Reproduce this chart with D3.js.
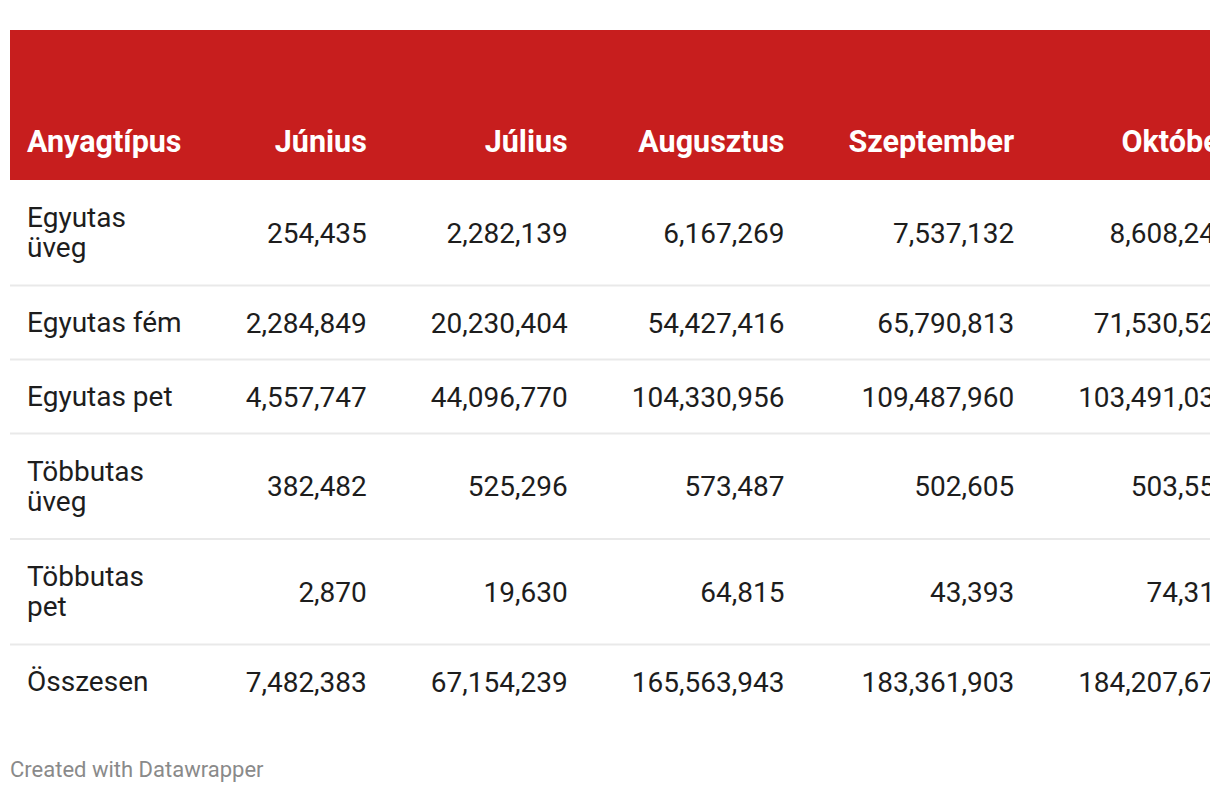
<!DOCTYPE html>
<head>
  <meta charset="utf-8">
  <script src="https://d3js.org/d3.v7.min.js"></script>
  <style>
    body { margin: 0; background: #fff; }
    text { font-family: Roboto, "Noto Sans", sans-serif; }
  </style>
</head>
<body>
  <div id="chart"></div>
  <script>
    // table data
    var firstHeader = "Anyagtípus";
    var categories = ["Egyutas üveg", "Egyutas fém", "Egyutas pet", "Többutas üveg", "Többutas pet", "Összesen"];
    var months = ["Június", "Július", "Augusztus", "Szeptember", "Október"];
    var junius = [254435, 2284849, 4557747, 382482, 2870, 7482383];
    var julius = [2282139, 20230404, 44096770, 525296, 19630, 67154239];
    var augusztus = [6167269, 54427416, 104330956, 573487, 64815, 165563943];
    var szeptember = [7537132, 65790813, 109487960, 502605, 43393, 183361903];
    var oktober = [8608245, 71530527, 103491036, 503553, 74312, 184207673];
    var columns = [junius, julius, augusztus, szeptember, oktober];
    var footer = "Created with Datawrapper";

    var width = 1220, height = 794;
    var left = 10, right = 1210;
    var headerTop = 30, headerBottom = 180;
    var fontSize = 28, headSize = 30.5, lineH = 30;
    var padX = 17, gap = 64, wrapW = 156;
    var red = "#c71e1e";
    var fmt = d3.format(",");

    var svg = d3.select("#chart").append("svg")
      .attr("width", width)
      .attr("height", height);

    svg.append("defs").append("clipPath").attr("id", "clip")
      .append("rect")
      .attr("x", left).attr("y", 0)
      .attr("width", right - left).attr("height", height);

    var g = svg.append("g").attr("clip-path", "url(#clip)");

    // measure text width
    var probe = svg.append("text");
    function measure(s, bold) {
      probe.attr("font-weight", bold ? 700 : 400)
        .attr("font-size", bold ? headSize : fontSize)
        .text(s);
      return probe.node().getComputedTextLength();
    }

    // wrap labels
    function wrap(s) {
      var words = s.split(" "), lines = [], cur = "";
      words.forEach(function(w) {
        var t = cur ? cur + " " + w : w;
        if (cur && measure(t) > wrapW) { lines.push(cur); cur = w; }
        else cur = t;
      });
      lines.push(cur);
      return lines;
    }
    var labelLines = categories.map(wrap);

    // column right edges from content widths
    var labelW = d3.max(categories.map(function(c, i) {
      return d3.max(labelLines[i].map(function(l) { return measure(l); }));
    }).concat([measure(firstHeader, true)]));
    var colRight = [];
    var pos = left + padX + labelW;
    columns.forEach(function(col, j) {
      var w = d3.max(col.map(function(v) { return measure(fmt(v)); }).concat([measure(months[j], true)]));
      pos = pos + gap + w;
      colRight.push(pos);
    });
    probe.remove();

    // row positions
    var rowTop = [], y0 = headerBottom;
    labelLines.forEach(function(lines) {
      var h = 42.5 + 31.5 * lines.length;
      rowTop.push([y0, y0 + h]);
      y0 += h;
    });

    // header
    g.append("rect")
      .attr("x", left).attr("y", headerTop)
      .attr("width", right - left).attr("height", headerBottom - headerTop)
      .attr("fill", red);

    var headY = headerBottom - 28;
    g.append("text")
      .attr("x", left + padX).attr("y", headY)
      .attr("font-size", headSize).attr("font-weight", 700)
      .attr("fill", "#fff")
      .text(firstHeader);

    g.selectAll(".month").data(months).enter()
      .append("text")
      .attr("class", "month")
      .attr("x", function(d, j) { return colRight[j]; })
      .attr("y", headY)
      .attr("text-anchor", "end")
      .attr("font-size", headSize).attr("font-weight", 700)
      .attr("fill", "#fff")
      .text(function(d) { return d; });

    // rows
    var rows = g.selectAll(".row").data(categories).enter()
      .append("g").attr("class", "row");

    rows.filter(function(d, i) { return i < categories.length - 1; })
      .append("rect")
      .attr("x", left)
      .attr("y", function(d, i) { return rowTop[i][1] - 1; })
      .attr("width", right - left)
      .attr("height", 2)
      .attr("fill", "#e9e9e9");

    rows.each(function(d, i) {
      var row = d3.select(this);
      var mid = (rowTop[i][0] + rowTop[i][1]) / 2;
      var lines = labelLines[i];
      row.selectAll(".lbl").data(lines).enter()
        .append("text")
        .attr("class", "lbl")
        .attr("x", left + padX)
        .attr("y", function(l, k) { return mid + (k - (lines.length - 1) / 2) * lineH + 9.5; })
        .attr("font-size", fontSize)
        .attr("fill", "#1d1d1d")
        .text(function(l) { return l; });

      row.selectAll(".val").data(columns.map(function(c) { return c[i]; })).enter()
        .append("text")
        .attr("class", "val")
        .attr("x", function(v, j) { return colRight[j]; })
        .attr("y", mid + 10)
        .attr("text-anchor", "end")
        .attr("font-size", fontSize)
        .attr("fill", "#1d1d1d")
        .text(function(v) { return fmt(v); });
    });

    // footer
    svg.append("text")
      .attr("x", left).attr("y", 777)
      .attr("font-size", 22)
      .attr("fill", "#8a8a8a")
      .text(footer);
  </script>
</body>
